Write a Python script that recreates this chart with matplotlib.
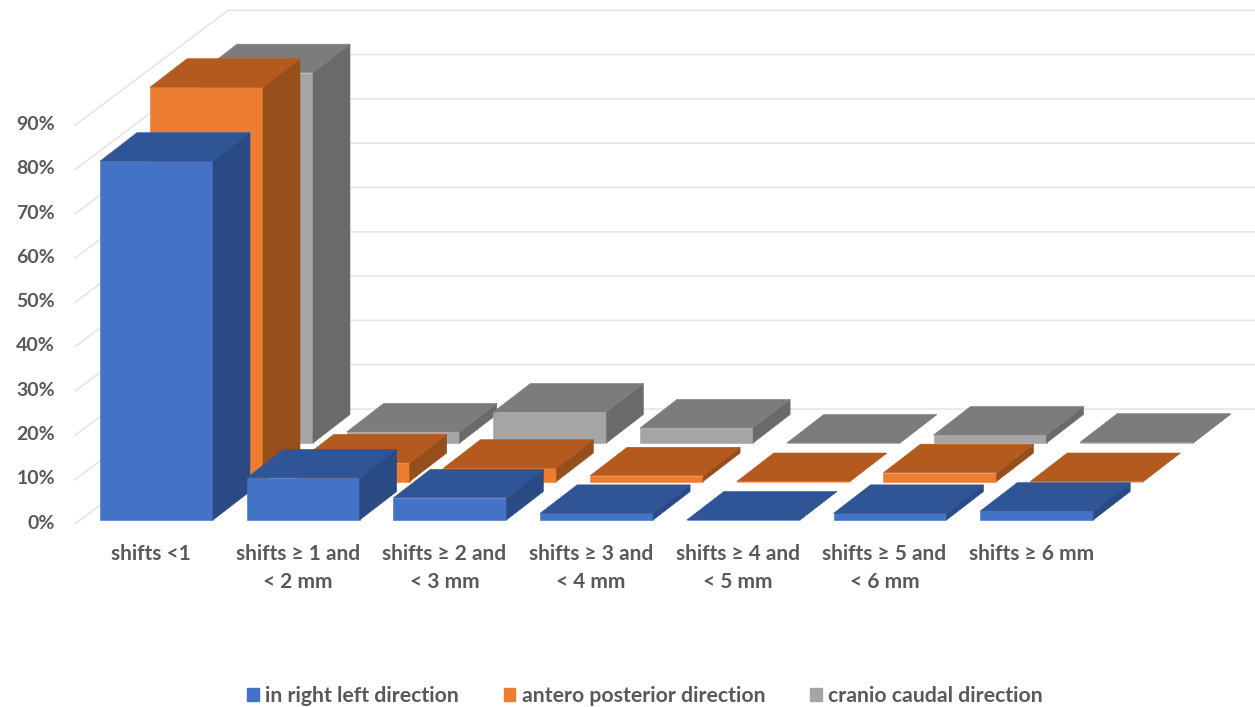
import matplotlib
matplotlib.use("Agg")
import matplotlib.pyplot as plt
from matplotlib.patches import Polygon, Patch

plt.rcParams['font.family'] = ['Lato', 'DejaVu Sans']

categories = ["shifts <1", "shifts ≥ 1 and\n< 2 mm", "shifts ≥ 2 and\n< 3 mm", "shifts ≥ 3 and\n< 4 mm",
              "shifts ≥ 4 and\n< 5 mm", "shifts ≥ 5 and\n< 6 mm", "shifts ≥ 6 mm"]
right_left = [81, 9.5, 5, 1.5, 0, 1.5, 2]
antero_posterior = [89, 4.2, 3, 1.3, 0, 2, 0]
cranio_caudal = [83.6, 2.5, 7, 3.4, 0, 1.8, 0.2]
y_ticks = [0, 10, 20, 30, 40, 50, 60, 70, 80, 90]

series_names = ["in right left direction", "antero posterior direction", "cranio caudal direction"]
series_values = [right_left, antero_posterior, cranio_caudal]
# front, top and side shades of each series
series_colors = [("#4472C4", "#2F5597", "#2A4A85"),
                 ("#ED7D31", "#B45A1E", "#964F1A"),
                 ("#A5A5A5", "#7C7C7C", "#6A6A6A")]

W, H = 1255, 707
CAT_PX = 146.7   # pixels per category
PCT_PX = 4.43    # pixels per percent
X0_PX, Y0_PX = 100, 520   # where category 0 / 0% of the front row sit

# oblique projection, all in data units (categories, percent)
BAR_W = 113 / CAT_PX
DEPTH_X, DEPTH_Y = 37 / CAT_PX, 28.5 / PCT_PX
ROW_X, ROW_Y = 50 / CAT_PX, 38.5 / PCT_PX
WALL_FRONT_X, WALL_FRONT_Y = -25 / CAT_PX, -4 / PCT_PX
WALL_BACK_X, WALL_BACK_Y = 128 / CAT_PX, 111 / PCT_PX

fig = plt.figure(figsize=(W / 100, H / 100), dpi=100)
ax = fig.add_axes([0, 0, 1, 1])
ax.set_xlim(-X0_PX / CAT_PX, (W - X0_PX) / CAT_PX)
ax.set_ylim((Y0_PX - H) / PCT_PX, Y0_PX / PCT_PX)
ax.axis("off")

# gridlines on the side wall and back wall
x_end = ax.get_xlim()[1]
for p in y_ticks:
    ax.plot([WALL_FRONT_X, WALL_BACK_X, x_end],
            [p + WALL_FRONT_Y, p + WALL_BACK_Y, p + WALL_BACK_Y],
            color="#E4E4E4", lw=1.1, zorder=1, solid_joinstyle="miter")
    ax.text(-45 / CAT_PX, p - 0.7, f"{p}%", ha="right", va="center",
            fontsize=14, color="#595959", fontweight="bold")


def draw_bar(x, base, value, colors, z):
    front, top, side = colors
    ax.add_patch(Polygon([(x, base), (x + BAR_W, base), (x + BAR_W, base + value), (x, base + value)],
                         fc=front, ec=front, lw=0.4, zorder=z))
    ax.add_patch(Polygon([(x + BAR_W, base), (x + BAR_W + DEPTH_X, base + DEPTH_Y),
                          (x + BAR_W + DEPTH_X, base + value + DEPTH_Y), (x + BAR_W, base + value)],
                         fc=side, ec=side, lw=0.4, zorder=z))
    ax.add_patch(Polygon([(x, base + value), (x + BAR_W, base + value),
                          (x + BAR_W + DEPTH_X, base + value + DEPTH_Y), (x + DEPTH_X, base + value + DEPTH_Y)],
                         fc=top, ec=top, lw=0.4, zorder=z))


# back row first so the nearer rows cover it
for row in [2, 1, 0]:
    for i, v in enumerate(series_values[row]):
        draw_bar(i + row * ROW_X, row * ROW_Y, v, series_colors[row], 10 - row)

# category labels, one text per line
for i, label in enumerate(categories):
    for n, line in enumerate(label.split("\n")):
        ax.text(i + (51 / CAT_PX), -(33.5 + n * 29) / PCT_PX, line, ha="center", va="center",
                fontsize=15, color="#595959", fontweight="bold")

handles = [Patch(fc=c[0], ec=c[0]) for c in series_colors]
ax.legend(handles, series_names, ncol=3, loc="center", bbox_to_anchor=(645 / W, 1 - 696 / H),
          frameon=False, handlelength=0.55, handleheight=0.55, handletextpad=0.3,
          columnspacing=2.1, prop={"size": 15.3, "weight": "bold"}, labelcolor="#595959")

fig.savefig("out.png", dpi=100)
